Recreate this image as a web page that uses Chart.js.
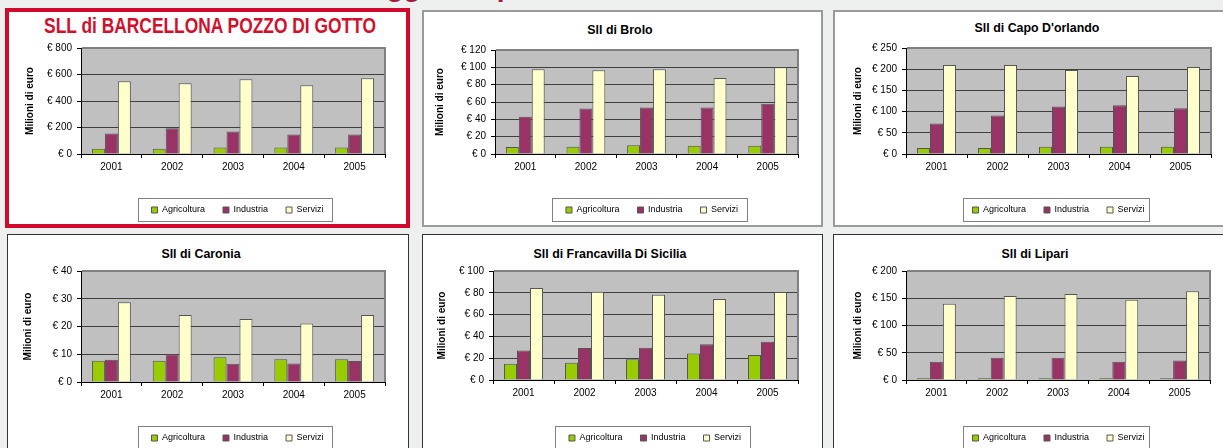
<!DOCTYPE html>
<html>
<head>
<meta charset="utf-8">
<script src="https://cdn.jsdelivr.net/npm/chart.js@4.4.1/dist/chart.umd.min.js"></script>
<style>
  html, body { margin: 0; padding: 0; }
  body {
    width: 1223px; height: 448px; overflow: hidden; position: relative;
    background: #eef0ef;
    font-family: "Liberation Sans", Arial, sans-serif;
  }
  .panel { position: absolute; background: #fff; box-sizing: border-box; }
  .ptitle {
    position: absolute; font-weight: bold; font-size: 12.4px; line-height: 12.4px;
    white-space: nowrap; transform: translateX(-50%); color: #000;
  }
  canvas { position: absolute; }
  #heading {
    position: absolute; left: 279px; top: -27px; font-size: 28px; line-height: 28px;
    font-weight: bold; color: #a3193d; white-space: nowrap;
  }
  #bigTitle {
    position: absolute; left: 209.5px; top: 15px; font-size: 22px; line-height: 22px;
    font-weight: bold; color: #d0102c; white-space: nowrap;
    transform: translateX(-50%) scaleX(0.79);
  }
</style>
</head>
<body>
<div id="heading">Valore aggiunto per settore</div>

<script>
// Data
const years = ['2001', '2002', '2003', '2004', '2005'];
const sectors = ['Agricoltura', 'Industria', 'Servizi'];

const barcellonaAgri = [40, 40, 50, 50, 50];
const barcellonaInd = [154, 195, 170, 147, 147];
const barcellonaServ = [549, 534, 565, 519, 572];
const barcellonaTicks = [0, 200, 400, 600, 800];

const broloAgri = [8, 8.5, 10, 9.6, 9.6];
const broloInd = [43, 52.5, 53.7, 53.7, 58];
const broloServ = [97.7, 96.5, 97.7, 87.6, 100];
const broloTicks = [0, 20, 40, 60, 80, 100, 120];

const capoAgri = [14, 14, 17, 17, 17];
const capoInd = [72, 91, 112, 115, 108];
const capoServ = [210, 210, 198, 184, 205];
const capoTicks = [0, 50, 100, 150, 200, 250];

const caroniaAgri = [7.7, 7.7, 8.9, 8.2, 8.2];
const caroniaInd = [8.0, 10.0, 6.6, 6.7, 7.6];
const caroniaServ = [28.7, 24.1, 22.7, 21.1, 24.1];
const caroniaTicks = [0, 10, 20, 30, 40];

const francavillaAgri = [15, 15.9, 19, 24.2, 23];
const francavillaInd = [27, 29.4, 29.7, 32.7, 35.2];
const francavillaServ = [84.4, 81, 78.3, 74.3, 80.7];
const francavillaTicks = [0, 20, 40, 60, 80, 100];

const lipariAgri = [3, 3, 3, 3, 3];
const lipariInd = [33.6, 41, 41, 33.6, 36];
const lipariServ = [140, 154, 158, 147.4, 163];
const lipariTicks = [0, 50, 100, 150, 200];

const colors = ['#99cc00', '#993366', '#ffffcc'];
const FONT = '"Liberation Sans", Arial, sans-serif';

// Layout of each panel (page coordinates)
const panels = [
  { title: 'SLL di BARCELLONA POZZO DI GOTTO', big: true, values: [barcellonaAgri, barcellonaInd, barcellonaServ], ticks: barcellonaTicks,
    box: [5, 8, 405, 220], border: '4px solid #cf0a2c', plot: [81, 48, 385, 154], yTitleX: 30, frame: [138, 198, 194, 23] },
  { title: 'Sll di Brolo', values: [broloAgri, broloInd, broloServ], ticks: broloTicks,
    box: [422, 10, 401, 217], border: '2px solid #9a9a9a', plot: [495, 50, 798, 154], yTitleX: 440, frame: [552, 198, 195, 23], tx: 620, ty: 23.5 },
  { title: "Sll di Capo D'orlando", values: [capoAgri, capoInd, capoServ], ticks: capoTicks,
    box: [833, 10, 400, 217], border: '2px solid #9a9a9a', plot: [906, 48, 1211, 154], yTitleX: 858, frame: [963, 198, 186, 23], tx: 1037, ty: 21.8 },
  { title: 'Sll di Caronia', values: [caroniaAgri, caroniaInd, caroniaServ], ticks: caroniaTicks,
    box: [7, 234, 402, 230], border: '1px solid #333', plot: [81, 271, 385, 382], yTitleX: 28, frame: [138, 426, 194, 23], tx: 201, ty: 247.5 },
  { title: 'Sll di Francavilla Di Sicilia', values: [francavillaAgri, francavillaInd, francavillaServ], ticks: francavillaTicks,
    box: [422, 234, 401, 230], border: '1px solid #333', plot: [493, 271, 798, 380], yTitleX: 442, frame: [555, 426, 195, 23], tx: 610, ty: 247.5 },
  { title: 'Sll di Lipari', values: [lipariAgri, lipariInd, lipariServ], ticks: lipariTicks,
    box: [833, 234, 400, 230], border: '1px solid #333', plot: [906, 271, 1210, 380], yTitleX: 858, frame: [963, 426, 186, 23], tx: 1035, ty: 247.5 }
];

// grey plot area with grey top/right edge
const plotBg = {
  id: 'plotBg',
  beforeDraw(chart) {
    const { ctx, chartArea: a } = chart;
    ctx.save();
    ctx.fillStyle = '#c0c0c0';
    ctx.fillRect(a.left, a.top, a.right - a.left, a.bottom - a.top);
    ctx.restore();
  },
  afterDraw(chart) {
    const { ctx, chartArea: a } = chart;
    ctx.save();
    ctx.strokeStyle = '#808080';
    ctx.lineWidth = 2;
    ctx.beginPath();
    ctx.moveTo(a.left + 1, a.top);
    ctx.lineTo(a.right, a.top);
    ctx.lineTo(a.right, a.bottom);
    ctx.stroke();
    ctx.restore();
  }
};

// move the legend to where the reference has it and draw its frame
const legendBox = {
  id: 'legendBox',
  afterLayout(chart, args, opts) {
    const lg = chart.legend;
    const w = lg.right - lg.left, h = lg.bottom - lg.top;
    lg.left = opts.cx - w / 2; lg.right = lg.left + w;
    lg.top = opts.cy - lg.options.labels.padding - 4.5; lg.bottom = lg.top + h;
  },
  afterDraw(chart, args, opts) {
    const ctx = chart.ctx;
    ctx.save();
    ctx.strokeStyle = '#808080';
    ctx.lineWidth = 1;
    ctx.strokeRect(opts.frame[0] + 0.5, opts.frame[1] + 0.5, opts.frame[2], opts.frame[3]);
    ctx.restore();
  }
};

function buildPanel(p, idx) {
  const panel = document.createElement('div');
  panel.className = 'panel';
  panel.style.left = p.box[0] + 'px';
  panel.style.top = p.box[1] + 'px';
  panel.style.width = p.box[2] + 'px';
  panel.style.height = p.box[3] + 'px';
  panel.style.border = p.border;
  document.body.appendChild(panel);

  const title = document.createElement('div');
  if (p.big) {
    title.id = 'bigTitle';
  } else {
    title.className = 'ptitle';
    title.style.left = p.tx + 'px';
    title.style.top = p.ty + 'px';
  }
  title.textContent = p.title;
  document.body.appendChild(title);

  const cl = p.yTitleX - 6;
  const ct = p.box[1] + 4;
  const cr = p.plot[2] + 6;
  const cb = Math.min(p.box[1] + p.box[3] - 2, 448);
  const canvas = document.createElement('canvas');
  canvas.id = 'chart' + idx;
  canvas.width = cr - cl;
  canvas.height = cb - ct;
  canvas.style.left = cl + 'px';
  canvas.style.top = ct + 'px';
  canvas.style.width = (cr - cl) + 'px';
  canvas.style.height = (cb - ct) + 'px';
  document.body.appendChild(canvas);

  const plotL = p.plot[0] - cl, plotT = p.plot[1] - ct, plotR = p.plot[2] - cl, plotB = p.plot[3] - ct;
  const frame = [p.frame[0] - cl, p.frame[1] - ct, p.frame[2], p.frame[3]];

  new Chart(canvas.getContext('2d'), {
    type: 'bar',
    data: {
      labels: years,
      datasets: sectors.map((name, i) => ({
        label: name,
        data: p.values[i],
        backgroundColor: colors[i],
        borderColor: '#555',
        borderWidth: 1,
        categoryPercentage: 0.64,
        barPercentage: 1.0
      }))
    },
    options: {
      responsive: false,
      animation: false,
      devicePixelRatio: 1,
      layout: { padding: { left: 0, top: plotT, right: (cr - cl) - plotR, bottom: 0 } },
      scales: {
        x: {
          grid: { offset: true, drawOnChartArea: false, tickLength: 4, tickColor: '#000' },
          border: { color: '#000', width: 1 },
          ticks: { color: '#000', font: { family: FONT, size: 10 }, padding: 3, maxRotation: 0 },
          afterFit(scale) {
            const lg = scale.chart.legend;
            scale.height = scale.chart.height - ((lg && lg.height) || 0) - plotB;
          }
        },
        y: {
          min: p.ticks[0],
          max: p.ticks[p.ticks.length - 1],
          grid: { color: '#404040', tickLength: 4, tickColor: '#000' },
          border: { color: '#000', width: 1 },
          ticks: {
            stepSize: p.ticks[1] - p.ticks[0],
            color: '#000', font: { family: FONT, size: 10 }, padding: 5,
            callback: v => '€ ' + v
          },
          title: {
            display: true, text: 'Milioni di euro', color: '#000',
            font: { family: FONT, size: 10, weight: 'bold' }, padding: 0
          },
          afterFit(scale) { scale.width = plotL; }
        }
      },
      plugins: {
        tooltip: { enabled: false },
        legend: {
          position: 'bottom',
          labels: { color: '#000', font: { family: FONT, size: 9 }, boxWidth: 6, boxHeight: 6, padding: 18 }
        },
        legendBox: { cx: frame[0] + frame[2] / 2 + 2.5, cy: frame[1] + frame[3] / 2 + 0.5, frame: frame }
      }
    },
    plugins: [plotBg, legendBox]
  });
}

panels.forEach(buildPanel);
</script>
</body>
</html>
